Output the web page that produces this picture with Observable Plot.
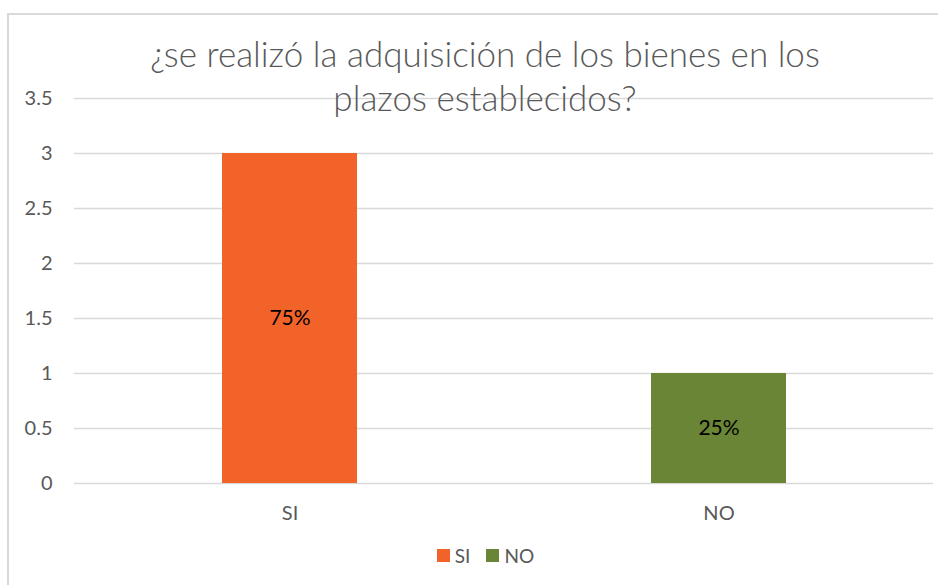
<!DOCTYPE html>
<html>
<head>
<meta charset="utf-8">
<script src="https://cdn.jsdelivr.net/npm/d3@7"></script>
<script src="https://cdn.jsdelivr.net/npm/@observablehq/plot@0.6"></script>
<style>
  html, body { margin: 0; padding: 0; background: #fff; overflow: hidden; width: 938px; height: 585px; }
  #wrap { position: relative; width: 938px; height: 585px; font-family: Lato, "Open Sans", sans-serif; }
  #frame { position: absolute; left: 7px; top: 13px; width: 1000px; height: 700px; border: 2px solid #d9d9d9; box-sizing: border-box; }
  #chart { position: absolute; left: 0; top: 0; }
  #title { position: absolute; left: 0; top: 31px; width: 970px; text-align: center; color: #595959; font-size: 35px; font-weight: 300; line-height: 44px; pointer-events: none; }
  #legend { position: absolute; left: 0; top: 544px; width: 971px; text-align: center; color: #595959; font-size: 19px; line-height: 22px; }
  #legend .item { display: inline-flex; align-items: center; margin: 0 8px; }
  #legend .sw { display: inline-block; width: 13px; height: 13px; margin-right: 5px; }
</style>
</head>
<body>
<div id="wrap">
  <div id="frame"></div>
  <div id="chart"></div>
  <div id="title"></div>
  <div id="legend"></div>
</div>
<script>
const titleLines = ["¿se realizó la adquisición de los bienes en los", "plazos establecidos?"];
const categories = ["SI", "NO"];
const values = [3, 1];
const barLabels = ["75%", "25%"];
const yTicks = [0, 0.5, 1, 1.5, 2, 2.5, 3, 3.5];
const palette = ["#F26329", "#6B8536"];

const data = categories.map((c, i) => ({cat: c, value: values[i], label: barLabels[i]}));

const plot = Plot.plot({
  width: 938,
  height: 585,
  marginLeft: 74,
  marginRight: 5,
  marginTop: 98,
  marginBottom: 102,
  style: {fontFamily: "Lato, 'Open Sans', sans-serif", fontSize: "20px", color: "#595959", background: "transparent"},
  x: {domain: categories, padding: 0, label: null, tickSize: 0, tickPadding: 22},
  y: {domain: [0, 3.5], ticks: yTicks, label: null, tickSize: 0, tickPadding: 22, tickFormat: d => String(d)},
  color: {domain: categories, range: palette},
  marks: [
    Plot.ruleY(yTicks, {stroke: "#d9d9d9", strokeWidth: 1.5}),
    Plot.barY(data, {x: "cat", y: "value", fill: "cat", insetLeft: 147, insetRight: 147}),
    Plot.text(data, {x: "cat", y: d => d.value / 2, text: "label", fill: "#000", fontSize: 21})
  ]
});
document.getElementById("chart").appendChild(plot);

document.getElementById("title").innerHTML = titleLines.map(t => `<div>${t}</div>`).join("");

const legend = document.getElementById("legend");
categories.forEach((c, i) => {
  const item = document.createElement("span");
  item.className = "item";
  item.innerHTML = `<span class="sw" style="background:${palette[i]}"></span>${c}`;
  legend.appendChild(item);
});
</script>
</body>
</html>
